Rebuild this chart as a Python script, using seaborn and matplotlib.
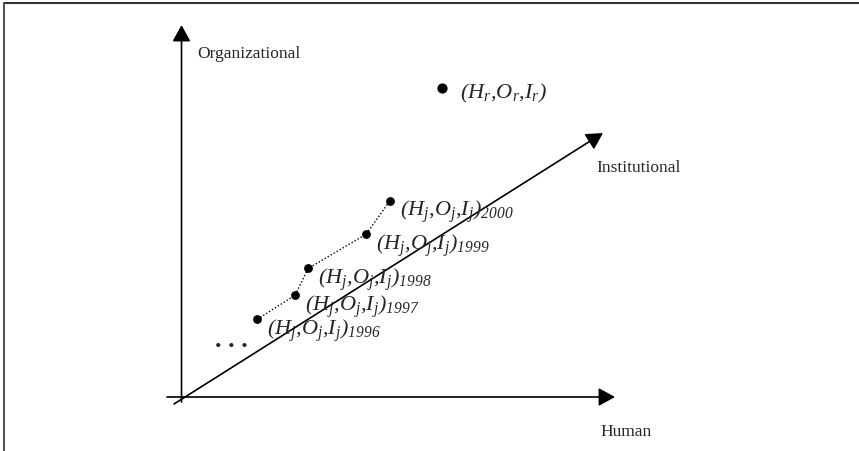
import matplotlib
matplotlib.use("Agg")
import matplotlib.pyplot as plt
import seaborn as sns
import pandas as pd
from matplotlib.lines import Line2D

# data (arbitrary units, origin at the axes crossing)
years = ["1996", "1997", "1998", "1999", "2000"]
human = [75.8, 113.5, 126.8, 184.5, 208.5]
organizational = [77.7, 101.7, 128.7, 162.7, 196.3]
ref_human = 260.5
ref_org = 308.7

df = pd.DataFrame({"year": years, "human": human, "org": organizational})

sns.set_theme(style="white")
plt.rcParams["font.family"] = ["Liberation Serif", "DejaVu Serif"]
plt.rcParams["mathtext.fontset"] = "custom"
plt.rcParams["mathtext.rm"] = "Liberation Serif:italic"
plt.rcParams["mathtext.it"] = "Liberation Serif:italic"

fig = plt.figure(figsize=(8.59, 4.51), dpi=100)
ax = fig.add_axes([0, 0, 1, 1])
ax.set_xlim(-181.5, 677.5)
ax.set_ylim(-54, 397)
ax.axis("off")

# axes arrows
arrow = dict(arrowstyle="-|>,head_length=1.0,head_width=0.55", color="black",
             lw=1.2, shrinkA=0, shrinkB=0, mutation_scale=10)
ax.annotate("", xy=(433.5, 0), xytext=(-14.5, 0), arrowprops=arrow)
ax.annotate("", xy=(0, 372), xytext=(0, -5), arrowprops=arrow)
ax.annotate("", xy=(421.5, 264), xytext=(-7.5, -7), arrowprops=arrow)

ax.text(15.5, 339.5, "Organizational", fontsize=12.5, va="baseline", ha="left")
ax.text(414.5, 225.3, "Institutional", fontsize=12.5, va="baseline", ha="left")
ax.text(418.5, -39, "Human", fontsize=12.5, va="baseline", ha="left")

# trajectory
sns.lineplot(data=df, x="human", y="org", sort=False, ax=ax, color="black",
             lw=1.0, linestyle=(0, (1, 1.5)))
sns.scatterplot(data=df, x="human", y="org", ax=ax, color="black", s=40,
                edgecolor="black", linewidth=0, zorder=5)
ax.scatter([ref_human], [ref_org], color="black", s=40, zorder=5)

for yr, h, o in zip(years, human, organizational):
    ax.annotate(r"(H$_j$,O$_j$,I$_j$)$_{%s}$" % yr, (h, o), xytext=(7, -11),
                textcoords="offset points", fontsize=16, style="italic",
                ha="left", va="baseline")
ax.annotate(r"(H$_r$,O$_r$,I$_r$)", (ref_human, ref_org), xytext=(13, -7),
            textcoords="offset points", fontsize=16, style="italic",
            ha="left", va="baseline")

ax.text(34, 50, ". . .", fontsize=19, fontweight="bold", ha="left", va="baseline")

ax.set_xlabel("")
ax.set_ylabel("")

# page frame
fig.add_artist(Line2D([0.005, 1], [0.9935, 0.9935], transform=fig.transFigure,
                      color="#333333", lw=1.5))
fig.add_artist(Line2D([0.005, 0.005], [0, 0.9935], transform=fig.transFigure,
                      color="#555555", lw=1.5))

fig.savefig("out.png", dpi=100)
